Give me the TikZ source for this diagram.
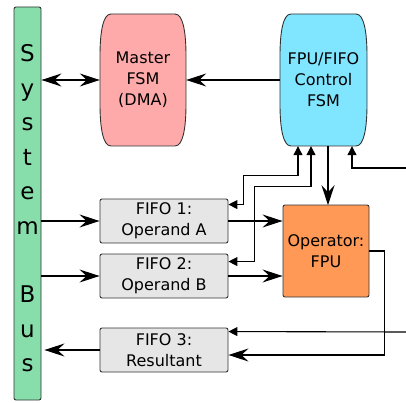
\documentclass[tikz,border=0pt]{standalone}
\usepackage{fontspec}
\setmainfont{DejaVu Sans}
\usetikzlibrary{arrows.meta,calc}
\definecolor{busgreen}{HTML}{87DEAA}
\definecolor{masterpink}{HTML}{FFAAAA}
\definecolor{ctrlcyan}{HTML}{80E5FF}
\definecolor{fifogray}{HTML}{E6E6E6}
\definecolor{fpuorange}{HTML}{FF9955}
\definecolor{edge}{HTML}{333333}
\begin{document}
\begin{tikzpicture}[x=1pt,y=-1pt,
  box/.style={draw=edge, line width=0.9pt, rounded corners=2pt, align=center,
    font=\fontsize{16}{21}\selectfont, inner sep=0pt},
  lbl/.style={align=center, font=\fontsize{16}{21}\selectfont, inner sep=0pt},
  barrel/.style={draw=edge, line width=0.9pt},
  conn/.style={line width=1.1pt, black},
  bigend/.style={-{Stealth[length=20pt,width=13pt,inset=7pt]}},
  bigboth/.style={{Stealth[length=20pt,width=13pt,inset=7pt]}-{Stealth[length=20pt,width=13pt,inset=7pt]}},
  smallend/.style={-{Triangle[length=9pt,width=9pt]}},
  smallboth/.style={{Triangle[length=9pt,width=9pt]}-{Triangle[length=9pt,width=9pt]}},
  busletter/.style={anchor=base, font=\fontsize{23}{23}\selectfont, inner sep=0pt}
]
\useasboundingbox (0,0) rectangle (406,403);

% System bus
\node[draw=edge, line width=0.9pt, fill=busgreen, rounded corners=2pt,
  minimum width=27pt, minimum height=393pt, inner sep=0pt] (bus) at (27.5,203.5) {};
\foreach \l/\k in {S/0,y/1,s/2,t/3,e/4,m/5,B/7,u/8,s/9}
  \node[busletter] (busl\k) at (27.5,62+34.4*\k) {\l};

% Master FSM barrel
\draw[barrel, fill=masterpink]
  (111,14) -- (175,14) .. controls (183,14) and (186,32) .. (186,56)
  -- (186,104) .. controls (186,128) and (183,146) .. (175,146)
  -- (111,146) .. controls (103,146) and (100,128) .. (100,104)
  -- (100,56) .. controls (100,32) and (103,14) .. (111,14) -- cycle;
\node[lbl, minimum width=86pt, minimum height=132pt] (master) at (143,80) {Master\\FSM\\(DMA)};

% Control FSM barrel
\draw[barrel, fill=ctrlcyan]
  (291,14) -- (356,14) .. controls (364,14) and (367,32) .. (367,56)
  -- (367,104) .. controls (367,128) and (364,146) .. (356,146)
  -- (291,146) .. controls (283,146) and (280,128) .. (280,104)
  -- (280,56) .. controls (280,32) and (283,14) .. (291,14) -- cycle;
\node[lbl, minimum width=87pt, minimum height=132pt] (control) at (323.5,80) {FPU/FIFO\\Control\\FSM};

% FIFOs
\node[box, fill=fifogray, minimum width=128pt, minimum height=44pt] (fifo1) at (164,221) {FIFO 1:\\Operand A};
\node[box, fill=fifogray, minimum width=128pt, minimum height=44pt] (fifo2) at (164,276) {FIFO 2:\\Operand B};
\node[box, fill=fifogray, minimum width=128pt, minimum height=44pt] (fifo3) at (164,350) {FIFO 3:\\Resultant};

% FPU
\node[box, fill=fpuorange, minimum width=86pt, minimum height=92pt] (fpu) at (326,251) {Operator:\\FPU};

% free ends
\coordinate (in1) at (406,168);
\coordinate (in2) at (406,332);

% connectors
\draw[conn, bigboth] (bus.east |- master.west) -- (master.west);
\draw[conn, bigend] (control.west) -- (master.east);
\draw[conn, bigend] (bus.east |- fifo1.west) -- (fifo1.west);
\draw[conn, bigend] (bus.east |- fifo2.west) -- (fifo2.west);
\draw[conn, bigend, shorten >=3pt] (fifo3.west) -- (bus.east |- fifo3.west);
\draw[conn, bigend] (fifo1.east) -- (fpu.west |- fifo1.east);
\draw[conn, bigend] (fifo2.east) -- (fpu.west |- fifo2.east);
\draw[conn, bigend] ($(control.south)+(4.5,0)$) -- ($(control.south)+(4.5,59)$);
\draw[conn, bigend] (fpu.east) -- ++(15,0) |- ($(fifo3.east)+(0,5)$);

\draw[conn, smallboth] ($(fifo1.north east)+(0,6)$) -- ++(15,0)
  |- ($(control.south)+(-25.5,29)$) -- ($(control.south)+(-25.5,0)$);
\draw[conn, smallboth] ($(fifo2.north east)+(0,8)$) -- ++(26,0)
  |- ($(control.south)+(-12.5,40)$) -- ($(control.south)+(-12.5,0)$);
\draw[conn, smallend] (in1) -| ($(control.south)+(28.5,0)$);
\draw[conn, smallend] (in2) -- ($(fifo3.north east)+(0,4)$);
\end{tikzpicture}
\end{document}
